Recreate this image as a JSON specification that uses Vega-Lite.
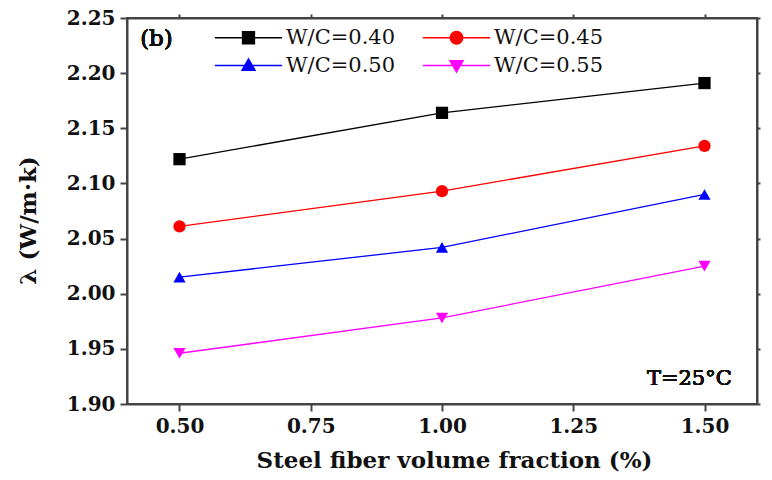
{
  "$schema": "https://vega.github.io/schema/vega-lite/v6.json",
  "width": 630,
  "height": 386,
  "autosize": {"type": "none"},
  "padding": {"left": 127, "top": 18, "right": 15, "bottom": 76},
  "background": "white",
  "config": {
    "view": {"stroke": "#444", "strokeWidth": 2},
    "font": "DejaVu Serif",
    "text": {"font": "DejaVu Serif", "fontWeight": "normal"},
    "legend": {"labelFont": "DejaVu Serif", "labelFontSize": 21, "labelFontWeight": "normal", "labelColor": "#111"},
    "axis": {
      "grid": false,
      "domainColor": "#444",
      "domainWidth": 2,
      "tickColor": "#444",
      "tickWidth": 2,
      "labelFont": "DejaVu Serif",
      "labelFontWeight": "bold",
      "labelFontSize": 20,
      "labelColor": "#111",
      "titleFont": "DejaVu Serif",
      "titleFontWeight": "bold",
      "titleFontSize": 23,
      "titleColor": "#111"
    }
  },
  "data": {
    "values": [
      {"vf": 0.5, "lambda": 2.122, "wc": "W/C=0.40"},
      {"vf": 1.0, "lambda": 2.164, "wc": "W/C=0.40"},
      {"vf": 1.5, "lambda": 2.191, "wc": "W/C=0.40"},
      {"vf": 0.5, "lambda": 2.061, "wc": "W/C=0.45"},
      {"vf": 1.0, "lambda": 2.093, "wc": "W/C=0.45"},
      {"vf": 1.5, "lambda": 2.134, "wc": "W/C=0.45"},
      {"vf": 0.5, "lambda": 2.015, "wc": "W/C=0.50"},
      {"vf": 1.0, "lambda": 2.042, "wc": "W/C=0.50"},
      {"vf": 1.5, "lambda": 2.090, "wc": "W/C=0.50"},
      {"vf": 0.5, "lambda": 1.946, "wc": "W/C=0.55"},
      {"vf": 1.0, "lambda": 1.978, "wc": "W/C=0.55"},
      {"vf": 1.5, "lambda": 2.025, "wc": "W/C=0.55"}
    ]
  },
  "resolve": {"axis": {"x": "independent", "y": "independent"}},
  "layer": [
    {
      "mark": {"type": "line", "strokeWidth": 1.3},
      "encoding": {
        "x": {
          "field": "vf", "type": "quantitative",
          "scale": {"domain": [0.4, 1.6], "nice": false, "zero": false},
          "axis": {"values": [0.5, 0.75, 1, 1.25, 1.5], "format": ".2f", "title": "Steel fiber volume fraction (%)", "tickSize": 7, "labelPadding": 5, "titlePadding": 13, "titleX": 327}
        },
        "y": {
          "field": "lambda", "type": "quantitative",
          "scale": {"domain": [1.9, 2.25], "nice": false, "zero": false},
          "axis": {"values": [1.9, 1.95, 2.0, 2.05, 2.1, 2.15, 2.2, 2.25], "format": ".2f", "title": "λ (W/m·k)", "tickSize": 7, "labelPadding": 5, "titlePadding": 26, "titleY": 202}
        },
        "color": {
          "field": "wc", "type": "nominal",
          "scale": {"domain": ["W/C=0.40", "W/C=0.45", "W/C=0.50", "W/C=0.55"], "range": ["#000000", "#ff0000", "#0000ff", "#ff00ff"]},
          "legend": {
            "title": null,
            "orient": "none",
            "direction": "horizontal",
            "legendX": 111,
            "legendY": 9,
            "columns": 2,
            "columnPadding": 24,
            "rowPadding": 6,
            "padding": 0,
            "symbolSize": 144,
            "symbolStrokeWidth": 1.3,
            "labelOffset": 27,
            "labelFont": "DejaVu Serif",
            "labelFontSize": 21,
            "labelColor": "#111",
            "encode": {
              "symbols": {
                "update": {
                  "shape": {"signal": "datum.value === 'W/C=0.40' ? 'M-5.6,0H5.6M-1,-1H1V1H-1Z' : datum.value === 'W/C=0.45' ? 'M-5.6,0H5.6M1.05,0A1.05,1.05,0,1,1,-1.05,0A1.05,1.05,0,1,1,1.05,0Z' : datum.value === 'W/C=0.50' ? 'M-5.6,0H5.6M0,-1.1L1.1,0.8H-1.1Z' : 'M-5.6,0H5.6M0,1.1L1.1,-0.8H-1.1Z'"},
                  "strokeWidth": {"value": 1.3},
                  "opacity": {"value": 1}
                }
              }
            }
          }
        }
      }
    },
    {
      "transform": [{"filter": "datum.wc === 'W/C=0.40'"}],
      "mark": {"type": "point", "filled": true, "size": 150, "opacity": 1, "shape": "square"},
      "encoding": {
        "x": {"field": "vf", "type": "quantitative", "axis": null},
        "y": {"field": "lambda", "type": "quantitative", "axis": null},
        "color": {"field": "wc", "type": "nominal"}
      }
    },
    {
      "transform": [{"filter": "datum.wc === 'W/C=0.45'"}],
      "mark": {"type": "point", "filled": true, "size": 150, "opacity": 1, "shape": "circle"},
      "encoding": {
        "x": {"field": "vf", "type": "quantitative", "axis": null},
        "y": {"field": "lambda", "type": "quantitative", "axis": null},
        "color": {"field": "wc", "type": "nominal"}
      }
    },
    {
      "transform": [{"filter": "datum.wc === 'W/C=0.50'"}],
      "mark": {"type": "point", "filled": true, "size": 150, "opacity": 1, "shape": "triangle-up"},
      "encoding": {
        "x": {"field": "vf", "type": "quantitative", "axis": null},
        "y": {"field": "lambda", "type": "quantitative", "axis": null},
        "color": {"field": "wc", "type": "nominal"}
      }
    },
    {
      "transform": [{"filter": "datum.wc === 'W/C=0.55'"}],
      "mark": {"type": "point", "filled": true, "size": 150, "opacity": 1, "shape": "triangle-down"},
      "encoding": {
        "x": {"field": "vf", "type": "quantitative", "axis": null},
        "y": {"field": "lambda", "type": "quantitative", "axis": null},
        "color": {"field": "wc", "type": "nominal"}
      }
    },
    {
      "mark": {"type": "text", "align": "left", "baseline": "middle", "fontSize": 23, "fontWeight": "normal", "font": "DejaVu Serif", "color": "#111"},
      "encoding": {
        "x": {"datum": 0.425, "type": "quantitative", "axis": {"orient": "top", "labels": false, "title": null, "values": [0.5, 0.75, 1, 1.25, 1.5], "tickSize": 4}},
        "y": {"datum": 2.231, "type": "quantitative", "axis": {"orient": "right", "labels": false, "title": null, "values": [1.9, 1.95, 2.0, 2.05, 2.1, 2.15, 2.2, 2.25], "tickSize": 3}},
        "text": {"value": "(b)"}
      }
    },
    {
      "mark": {"type": "text", "align": "right", "baseline": "middle", "fontSize": 21, "fontWeight": "normal", "font": "DejaVu Serif", "color": "#111"},
      "encoding": {
        "x": {"datum": 1.552, "type": "quantitative", "axis": null},
        "y": {"datum": 1.9227, "type": "quantitative", "axis": null},
        "text": {"value": "T=25°C"}
      }
    }
  ]
}
